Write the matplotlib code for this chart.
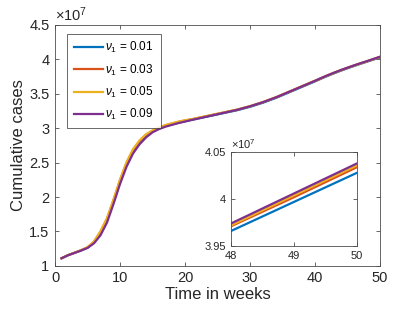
import matplotlib
matplotlib.use('Agg')
import matplotlib.pyplot as plt

plt.rcParams['font.family'] = ['Liberation Sans', 'DejaVu Sans']
plt.rcParams['mathtext.fontset'] = 'custom'
plt.rcParams['mathtext.rm'] = 'Liberation Sans'
plt.rcParams['mathtext.it'] = 'Liberation Sans:italic'

# cumulative cases (x 1e7), weeks 1..50
weeks = list(range(1, 51))
cases_001 = [1.110, 1.155, 1.190, 1.225, 1.265, 1.340, 1.470, 1.660, 1.930, 2.220,
             2.470, 2.660, 2.790, 2.885, 2.950, 2.995, 3.030, 3.055, 3.080, 3.100,
             3.120, 3.140, 3.160, 3.180, 3.200, 3.220, 3.240, 3.260, 3.285, 3.310,
             3.340, 3.370, 3.405, 3.440, 3.480, 3.520, 3.560, 3.600, 3.640, 3.680,
             3.722, 3.762, 3.800, 3.836, 3.870, 3.903, 3.935, 3.966, 3.997, 4.028]
cases_003 = [1.110, 1.155, 1.190, 1.226, 1.268, 1.350, 1.495, 1.685, 1.955, 2.245,
             2.495, 2.685, 2.812, 2.905, 2.962, 3.007, 3.042, 3.067, 3.092, 3.112,
             3.128, 3.148, 3.168, 3.188, 3.208, 3.228, 3.248, 3.268, 3.293, 3.318,
             3.348, 3.378, 3.413, 3.448, 3.488, 3.528, 3.568, 3.608, 3.648, 3.688,
             3.728, 3.768, 3.806, 3.842, 3.876, 3.909, 3.940, 3.971, 4.002, 4.034]
cases_005 = [1.110, 1.156, 1.191, 1.227, 1.270, 1.355, 1.505, 1.695, 1.965, 2.255,
             2.505, 2.695, 2.822, 2.912, 2.967, 3.011, 3.046, 3.071, 3.095, 3.115,
             3.130, 3.150, 3.170, 3.190, 3.210, 3.230, 3.250, 3.270, 3.295, 3.320,
             3.350, 3.380, 3.415, 3.450, 3.490, 3.530, 3.570, 3.610, 3.650, 3.690,
             3.730, 3.770, 3.808, 3.844, 3.878, 3.911, 3.942, 3.972, 4.004, 4.036]
cases_009 = [1.110, 1.154, 1.188, 1.222, 1.260, 1.328, 1.445, 1.630, 1.900, 2.190,
             2.440, 2.632, 2.765, 2.865, 2.940, 2.987, 3.022, 3.048, 3.074, 3.096,
             3.119, 3.140, 3.161, 3.182, 3.203, 3.224, 3.245, 3.266, 3.292, 3.318,
             3.348, 3.378, 3.413, 3.448, 3.488, 3.528, 3.568, 3.608, 3.648, 3.688,
             3.731, 3.771, 3.809, 3.845, 3.879, 3.912, 3.944, 3.974, 4.006, 4.038]

series = [cases_001, cases_003, cases_005, cases_009]
labels = [r'$\nu_1$ = 0.01', r'$\nu_1$ = 0.03', r'$\nu_1$ = 0.05', r'$\nu_1$ = 0.09']
colors = ['#0072BD', '#D95319', '#EDB120', '#7E2F8E']
x_ticks = [0, 10, 20, 30, 40, 50]
y_ticks = [1, 1.5, 2, 2.5, 3, 3.5, 4, 4.5]
inset_x_ticks = [48, 49, 50]
inset_y_ticks = [3.95, 4, 4.05]

axcol = '#262626'

def style(ax, size):
    for s in ax.spines.values():
        s.set_color('#4d4d4d')
        s.set_linewidth(0.6)
    ax.tick_params(direction='in', top=True, right=True, length=3, width=0.6,
                   colors='#4d4d4d', labelcolor=axcol, labelsize=size)

fig = plt.figure(figsize=(4.2, 3.15), dpi=100)
ax = fig.add_axes([0.131, 0.156, 0.774, 0.765])
for y, lab, c in zip(series, labels, colors):
    ax.plot(weeks, y, color=c, lw=1.6, label=lab)
ax.set_xlim(0, 50)
ax.set_ylim(1, 4.5)
ax.set_xticks(x_ticks)
ax.set_yticks(y_ticks)
ax.set_yticklabels(['%g' % v for v in y_ticks])
style(ax, 10.5)
ax.tick_params(pad=4)
ax.set_xlabel('Time in weeks', fontsize=12, color=axcol, labelpad=1)
ax.set_ylabel('Cumulative cases', fontsize=12, color=axcol, labelpad=2)
ax.text(0.0, 1.005, r'$\times\mathregular{10^{7}}$', transform=ax.transAxes,
        ha='left', va='bottom', fontsize=10.5, color=axcol)
leg = ax.legend(loc='upper left', bbox_to_anchor=(0.037, 0.963), borderaxespad=0,
                fontsize=8.5, fancybox=False, handlelength=2.5, handletextpad=0.2,
                labelspacing=0.6, borderpad=0.55)
leg.get_frame().set_edgecolor(axcol)
leg.get_frame().set_linewidth(0.6)

ins = fig.add_axes([0.55, 0.219, 0.3, 0.298])
for y, c in zip(series, colors):
    ins.plot(weeks[47:], y[47:], color=c, lw=1.6)
ins.set_xlim(48, 50)
ins.set_ylim(3.95, 4.05)
ins.set_xticks(inset_x_ticks)
ins.set_yticks(inset_y_ticks)
ins.set_yticklabels(['%g' % v for v in inset_y_ticks])
style(ins, 8)
ins.text(0.0, 1.01, r'$\times\mathregular{10^{7}}$', transform=ins.transAxes,
         ha='left', va='bottom', fontsize=8, color=axcol)

fig.savefig('out.png', dpi=100)
